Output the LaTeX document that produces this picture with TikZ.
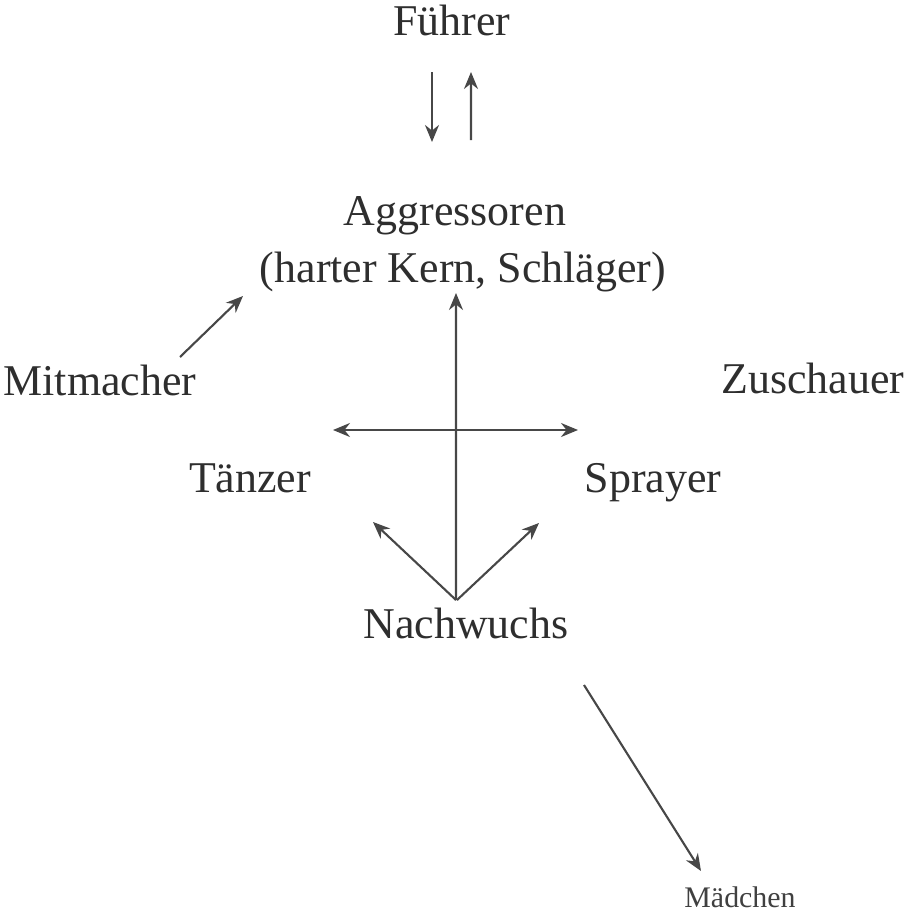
\documentclass[tikz,border=0pt]{standalone}
\usepackage{fontspec}
\setmainfont{Liberation Serif}
\usepackage{tikz}
\usetikzlibrary{arrows.meta}

\begin{document}
\begin{tikzpicture}[
			lbl/.style={anchor=base,inner sep=0pt,text=black!82,font=\fontsize{25}{30}\selectfont},
			small/.style={anchor=base,inner sep=0pt,text=black!75,font=\fontsize{17}{20}\selectfont},
			arr/.style={-{Stealth[length=3.4mm,width=2.8mm]},draw=black!72,line width=1.2pt},
			dblarr/.style={{Stealth[length=3.4mm,width=2.8mm]}-{Stealth[length=3.4mm,width=2.8mm]},draw=black!72,line width=1.2pt}]
			\useasboundingbox (0,0) rectangle (18.12,-18.24);
			% groups
			\node[lbl] (fuehrer) at (9.04,-0.70) {Führer};
			\node[lbl] (aggr) at (9.10,-4.50) {Aggressoren};
			\node[lbl] (kern) at (9.26,-5.64) {(harter Kern, Schläger)};
			\node[lbl] (mit) at (2.00,-7.90) {Mitmacher};
			\node[lbl] (zusch) at (16.26,-7.86) {Zuschauer};
			\node[lbl] (taenzer) at (5.00,-9.84) {Tänzer};
			\node[lbl] (sprayer) at (13.06,-9.84) {Sprayer};
			\node[lbl] (nach) at (9.32,-12.76) {Nachwuchs};
			\node[small] (maed) at (14.80,-18.14) {Mädchen};
			% ends of the cross bar
			\coordinate (barl) at (6.66,-8.60);
			\coordinate (barr) at (11.56,-8.60);
			% connectors
			\draw[arr] ([xshift=-0.40cm,yshift=-0.74cm]fuehrer.base) -- ([xshift=-0.46cm,yshift=1.66cm]aggr.base);
			\draw[arr] ([xshift=0.32cm,yshift=1.70cm]aggr.base) -- ([xshift=0.38cm,yshift=-0.74cm]fuehrer.base);
			\draw[arr] ([xshift=1.60cm,yshift=0.76cm]mit.base) -- ([xshift=-4.40cm,yshift=-0.28cm]kern.base);
			\draw[arr] ([xshift=-0.20cm,yshift=0.76cm]nach.base) -- ([xshift=-0.14cm,yshift=-0.22cm]kern.base);
			\draw[dblarr] (barl) -- (barr);
			\draw[arr] ([xshift=-0.20cm,yshift=0.76cm]nach.base) -- ([xshift=2.46cm,yshift=-0.60cm]taenzer.base);
			\draw[arr] ([xshift=-0.18cm,yshift=0.76cm]nach.base) -- ([xshift=-2.28cm,yshift=-0.62cm]sprayer.base);
			\draw[arr] ([xshift=2.36cm,yshift=-0.94cm]nach.base) -- ([xshift=-0.78cm,yshift=0.72cm]maed.base);
		\end{tikzpicture}
\end{document}
